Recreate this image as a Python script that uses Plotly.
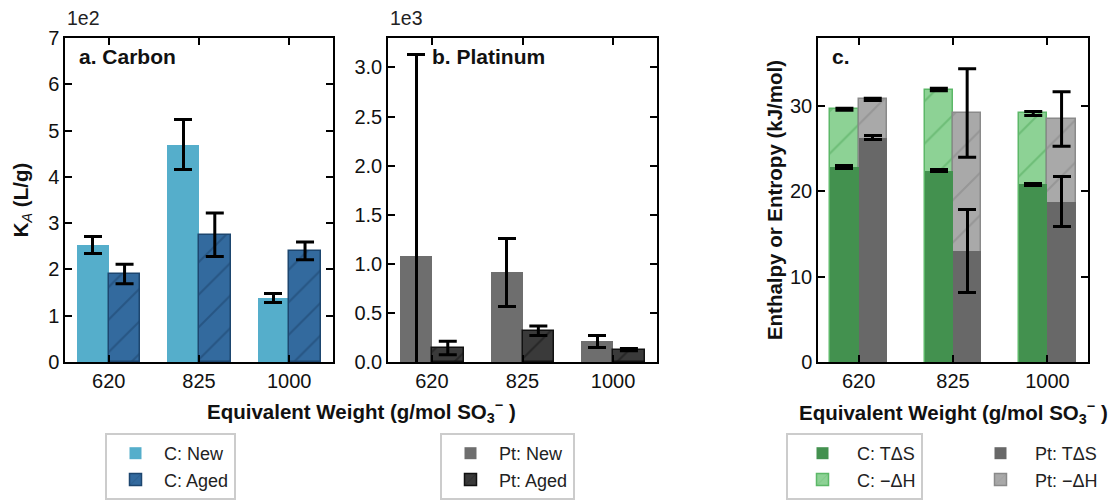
import plotly.graph_objects as go

# ---------------- data ----------------
categories = ["620", "825", "1000"]

# Panel a: Carbon, K_A in units of 1e2 L/g
c_new = [2.53, 4.69, 1.38]
c_new_err = [0.19, 0.54, 0.09]
c_aged = [1.90, 2.75, 2.40]
c_aged_err = [0.21, 0.47, 0.19]

# Panel b: Platinum, K_A in units of 1e3 L/g
pt_new = [1.076, 0.913, 0.210]
pt_new_err = [2.06, 0.345, 0.06]
pt_aged = [0.143, 0.319, 0.126]
pt_aged_err = [0.068, 0.048, 0.012]

# Panel c: thermodynamics (kJ/mol)
c_tds = [22.9, 22.45, 20.85]
c_tds_err = [0.15, 0.15, 0.1]
c_negdh = [29.65, 31.95, 29.15]
c_negdh_err = [0.12, 0.15, 0.23]
pt_tds = [26.3, 13.05, 18.8]
pt_tds_err = [0.25, 4.88, 2.9]
pt_negdh = [30.8, 29.2, 28.5]
pt_negdh_err = [0.12, 5.2, 3.2]

FONT = "Arial, Liberation Sans, sans-serif"
# page body has an 8px margin, so the figure starts at (8, 8) in the window
OFF = 8
W, H = 1116 - OFF, 502 - OFF


def px(x):
    return (x - OFF) / W


def py(y):
    return 1 - (y - OFF) / H


fig = go.Figure()


def err(arr):
    return dict(type="data", array=arr, color="black", thickness=3, width=9)


W_AB = 0.35
W_C = 0.3

# ---- panel a ----
fig.add_trace(go.Bar(x=categories, y=c_new, width=W_AB, offset=-W_AB, name="C: New",
                     marker=dict(color="#55aecb", line=dict(width=0)),
                     error_y=err(c_new_err), xaxis="x", yaxis="y", legend="legend"))
fig.add_trace(go.Bar(x=categories, y=c_aged, width=W_AB, offset=0, name="C: Aged",
                     marker=dict(color="#336a9e", line=dict(color="#1d466f", width=1.5),
                                 pattern=dict(shape="/", size=23, solidity=0.09, fgcolor="#1b4269")),
                     error_y=err(c_aged_err), xaxis="x", yaxis="y", legend="legend"))

# ---- panel b ----
fig.add_trace(go.Bar(x=categories, y=pt_new, width=W_AB, offset=-W_AB, name="Pt: New",
                     marker=dict(color="#6e6e6e", line=dict(width=0)),
                     error_y=err(pt_new_err), xaxis="x2", yaxis="y2", legend="legend2"))
fig.add_trace(go.Bar(x=categories, y=pt_aged, width=W_AB, offset=0, name="Pt: Aged",
                     marker=dict(color="#3a3a3a", line=dict(color="#111111", width=1.5),
                                 pattern=dict(shape="/", size=23, solidity=0.09, fgcolor="#111111")),
                     error_y=err(pt_aged_err), xaxis="x2", yaxis="y2", legend="legend2"))

# ---- panel c ----
fig.add_trace(go.Bar(x=categories, y=c_negdh, width=W_C, offset=-W_C, name="C: \u2212\u0394H",
                     marker=dict(color="#8dd295", line=dict(color="#5cb868", width=1.5),
                                 pattern=dict(shape="/", size=30, solidity=0.07, fgcolor="#4fa85a")),
                     error_y=err(c_negdh_err), xaxis="x3", yaxis="y3", legend="legend3", legendrank=2))
fig.add_trace(go.Bar(x=categories, y=pt_negdh, width=W_C, offset=0, name="Pt: \u2212\u0394H",
                     marker=dict(color="#a9a9a9", line=dict(color="#8a8a8a", width=1.5),
                                 pattern=dict(shape="/", size=30, solidity=0.07, fgcolor="#858585")),
                     error_y=err(pt_negdh_err), xaxis="x3", yaxis="y3", legend="legend4", legendrank=2))
fig.add_trace(go.Bar(x=categories, y=c_tds, width=W_C, offset=-W_C, name="C: T\u0394S",
                     marker=dict(color="#43914f", line=dict(width=0)),
                     error_y=err(c_tds_err), xaxis="x3", yaxis="y3", legend="legend3", legendrank=1))
fig.add_trace(go.Bar(x=categories, y=pt_tds, width=W_C, offset=0, name="Pt: T\u0394S",
                     marker=dict(color="#686868", line=dict(width=0)),
                     error_y=err(pt_tds_err), xaxis="x3", yaxis="y3", legend="legend4", legendrank=1))

# ---------------- axes ----------------
ydom = [py(362), py(38)]
tickfont = dict(size=20, color="#111", family=FONT)
common_x = dict(type="category", showline=True, linecolor="black", linewidth=1.5, mirror="ticks",
                ticks="inside", ticklen=7, tickwidth=1.5, tickcolor="black", showgrid=False,
                zeroline=False, tickfont=tickfont, automargin=False)
common_y = dict(showline=True, linecolor="black", linewidth=1.5, mirror="ticks",
                ticks="inside", ticklen=7, tickwidth=1.5, tickcolor="black", showgrid=False,
                zeroline=False, tickfont=tickfont, domain=ydom, automargin=False)
title_font = dict(size=20.5, color="#111", family=FONT)

fig.update_layout(
    xaxis=dict(common_x, domain=[px(65), px(333)], range=[-0.485, 2.485], anchor="y"),
    xaxis2=dict(common_x, domain=[px(388), px(657)], range=[-0.485, 2.485], anchor="y2"),
    xaxis3=dict(common_x, domain=[px(818), px(1088)], range=[-0.43, 2.43], anchor="y3"),
    yaxis=dict(common_y, range=[0, 7], dtick=1, anchor="x",
               title=dict(text="<b>K</b><sub><i>A</i></sub><b> (L/g)</b>",
                          font=title_font, standoff=14)),
    yaxis2=dict(common_y, range=[0, 3.3], dtick=0.5, tickformat=".1f", anchor="x2"),
    yaxis3=dict(common_y, range=[0, 38], dtick=10, anchor="x3",
                title=dict(text="<b>Enthalpy or Entropy (kJ/mol)</b>",
                           font=title_font, standoff=2)),
)

# ---------------- legends ----------------
leg_common = dict(font=dict(size=18, color="#222", family=FONT), bgcolor="white",
                  bordercolor="#cccccc", borderwidth=2, yanchor="top", xanchor="left",
                  tracegroupgap=0, itemwidth=47)
legend_top = py(433)
fig.update_layout(
    legend=dict(leg_common, x=px(105), y=legend_top),
    legend2=dict(leg_common, x=px(440), y=legend_top),
    legend3=dict(leg_common, x=px(786), y=legend_top, entrywidth=400, itemwidth=59),
    legend4=dict(leg_common, x=px(964), y=legend_top, itemwidth=59, bgcolor="rgba(0,0,0,0)",
                 bordercolor="rgba(0,0,0,0)"),
)

# ---------------- text annotations ----------------
ann_font = dict(size=21, color="#111", family=FONT)
xt = "<b>Equivalent Weight (g/mol SO<sub>3</sub><sup>\u2212</sup> )</b>"
annotations = [
    dict(text="1e2", x=px(65), y=py(18), xanchor="left", yanchor="middle",
         font=dict(size=19.5, color="#222", family=FONT)),
    dict(text="1e3", x=px(388), y=py(18), xanchor="left", yanchor="middle",
         font=dict(size=19.5, color="#222", family=FONT)),
    dict(text="<b>a. Carbon</b>", x=px(77), y=py(57), xanchor="left", yanchor="middle", font=ann_font),
    dict(text="<b>b. Platinum</b>", x=px(430), y=py(57), xanchor="left", yanchor="middle", font=ann_font),
    dict(text="<b>c.</b>", x=px(830), y=py(57), xanchor="left", yanchor="middle", font=ann_font),
    dict(text=xt, x=px(361), y=py(411), xanchor="center", yanchor="middle", font=title_font),
    dict(text=xt, x=px(953), y=py(412), xanchor="center", yanchor="middle", font=title_font),
]
for a in annotations:
    a.update(xref="paper", yref="paper", showarrow=False)

fig.update_layout(
    annotations=annotations,
    width=W, height=H,
    margin=dict(l=0, r=0, t=0, b=0, autoexpand=False),
    paper_bgcolor="white", plot_bgcolor="white",
    font=dict(family=FONT, color="#222"),
    bargap=0,
)

fig.write_html("out.html")
